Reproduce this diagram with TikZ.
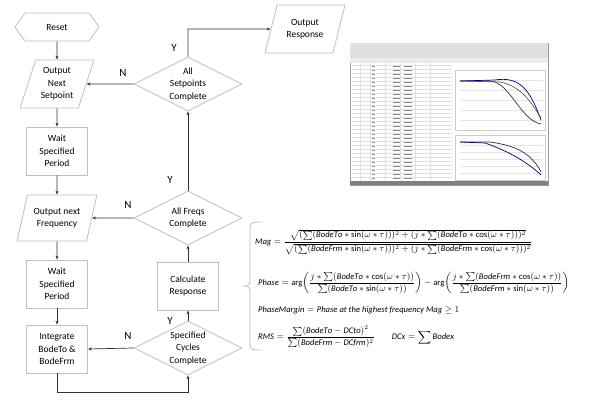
\documentclass[tikz,border=0pt]{standalone}
\usepackage{fontspec}
\setmainfont{Carlito}
\usepackage{amsmath}
\usetikzlibrary{shapes.geometric,arrows.meta}
\begin{document}
\begin{tikzpicture}[x=1pt,y=-1pt,
  base/.style={draw=black!25,line width=0.8pt,align=center,font=\fontsize{9.5}{12.5}\selectfont,inner sep=2pt},
  boxs/.style={base,rectangle,minimum width=61pt,minimum height=48pt},
  para/.style={base,trapezium,trapezium left angle=70,trapezium right angle=110,minimum width=74pt,minimum height=46pt,trapezium stretches=true},
  dia/.style={base,diamond,aspect=2.1,inner sep=0pt,minimum width=108pt,minimum height=54pt},
  conn/.style={-{Stealth[length=4pt,width=3pt]},black!80,line width=0.7pt},
  yn/.style={font=\fontsize{11}{12}\selectfont},
  fml/.style={anchor=west,inner sep=0,font=\fontsize{8.6}{10}\selectfont}]
\useasboundingbox (0,0) rectangle (600,404);
% left column
\node[base,draw=none,minimum width=83pt,minimum height=28pt] (reset) at (57,27) {Reset};
\draw[black!25,line width=0.8pt] (15,27)--(25,13)--(89,13)--(99,27)--(89,41)--(25,41)--cycle;
\node[para,minimum height=48pt] (ons) at (57,84) {Output\\Next\\Setpoint};
\node[boxs] (w1) at (57,151) {Wait\\Specified\\Period};
\node[para,minimum width=80pt] (onf) at (57,218) {Output next\\Frequency};
\node[boxs] (w2) at (57,284) {Wait\\Specified\\Period};
\node[boxs] (int) at (57,349) {Integrate\\BodeTo \&\\BodeFrm};
% right column
\node[dia] (asc) at (188,84) {All\\Setpoints\\Complete};
\node[dia] (afc) at (188,218) {All Freqs\\Complete};
\node[boxs] (calc) at (188,286) {Calculate\\Response};
\node[dia] (scc) at (188,348) {Specified\\Cycles\\Complete};
\node[para,minimum width=80pt,minimum height=48pt] (outr) at (305,29) {Output\\Response};
% connectors
\draw[conn] (reset.south) -- (ons.south|-ons.north);
\draw[conn] (ons.south) -- (w1.north);
\draw[conn] (w1.south) -- (onf.north);
\draw[conn] (onf.south) -- (w2.north);
\draw[conn] (w2.south) -- (int.north);
\coordinate (b1) at (57,392);
\coordinate (b2) at (188,392);
\draw[conn] (int.south) -- (b1) -- (b2) -- (scc.south);
\draw[conn] (scc.west) -- (int.east);
\draw[conn] (scc.north) -- (calc.south);
\draw[conn] (calc.north) -- (afc.south);
\draw[conn] (afc.west) -- (onf.east);
\draw[conn] (afc.north) -- (asc.south);
\draw[conn] (asc.west) -- (ons.east);
\coordinate (c1) at (188,29);
\draw[conn] (asc.north) -- (c1) -- (outr.west);
\node[yn] (y1) at (174,48) {Y};
\node[yn] (n1) at (123,73) {N};
\node[yn] (y2) at (170,180) {Y};
\node[yn] (n2) at (128,205) {N};
\node[yn] (n3) at (128,336) {N};
\node[yn] (y3) at (170,321) {Y};
% brace
\draw[black!25,line width=0.8pt] (262,222) .. controls (250,222) and (250,222) .. (250,235) -- (250,275) .. controls (250,286) .. (242,286) .. controls (250,286) .. (250,297) -- (250,337) .. controls (250,350) and (250,350) .. (262,350);
% formulas
\node[fml] (f1) at (255,242) {$\mathit{Mag}=\dfrac{\sqrt{(\sum(\mathit{BodeTo}*\sin(\omega*\tau)))^2+(j*\sum(\mathit{BodeTo}*\cos(\omega*\tau)))^2}}{\sqrt{(\sum(\mathit{BodeFrm}*\sin(\omega*\tau)))^2+(j*\sum(\mathit{BodeFrm}*\cos(\omega*\tau)))^2}}$};
\node[fml] (f2) at (258,283) {$\mathit{Phase}=\arg\!\left(\dfrac{j*\sum(\mathit{BodeTo}*\cos(\omega*\tau))}{\sum(\mathit{BodeTo}*\sin(\omega*\tau))}\right)-\arg\!\left(\dfrac{j*\sum(\mathit{BodeFrm}*\cos(\omega*\tau))}{\sum(\mathit{BodeFrm}*\sin(\omega*\tau))}\right)$};
\node[fml] (f3) at (258,310) {$\mathit{PhaseMargin}=\mathit{Phase\ at\ the\ highest\ frequency\ Mag}\geq 1$};
\node[fml] (f4) at (258,337) {$\mathit{RMS}=\dfrac{\sum(\mathit{BodeTo}-\mathit{DCto})^2}{\sum(\mathit{BodeFrm}-\mathit{DCfrm})^2}\qquad \mathit{DCx}=\displaystyle\sum \mathit{Bodex}$};
% screenshot approximation
\begin{scope}
\fill[white] (350,43) rectangle (548,185);
\draw[black!40,line width=0.6pt] (350,43) rectangle (548,185);
\fill[blue!10!black!12] (350,43) rectangle (548,58);
\fill[black!8] (350,58) rectangle (548,63);
\foreach \yy in {65,69,...,182} \draw[black!12,line width=0.3pt] (352,\yy) -- (452,\yy);
\foreach \xx in {360,370,385,400,415,430} \draw[black!12,line width=0.3pt] (\xx,63) -- (\xx,183);
\foreach \yy in {66,70,...,182} \draw[black!45,line width=0.6pt] (372,\yy) -- (375,\yy) (393,\yy) -- (400,\yy) (404,\yy) -- (412,\yy);
\fill[black!50] (350,181) rectangle (548,185);
\draw[black!20] (455,70) rectangle (545,130);
\draw[black!20] (455,135) rectangle (545,180);
\foreach \yy in {80,90,...,125} \draw[black!10] (460,\yy) -- (543,\yy);
\foreach \yy in {145,152,...,178} \draw[black!10] (460,\yy) -- (543,\yy);
\draw[black!80,line width=0.7pt] (460,81) -- (490,81) .. controls (510,82) and (520,120) .. (541,124);
\draw[blue!50!black,line width=0.7pt] (460,81) -- (495,80) .. controls (520,76) and (530,90) .. (541,120);
\draw[black!70,line width=0.6pt] (460,81) -- (500,82) .. controls (520,86) and (530,100) .. (541,118);
\draw[black!80,line width=0.7pt] (460,142) -- (490,142) .. controls (510,145) and (530,150) .. (541,172);
\draw[blue!50!black,line width=0.7pt] (460,142) -- (485,143) .. controls (505,150) and (525,160) .. (541,175);
\end{scope}
\end{tikzpicture}
\end{document}
